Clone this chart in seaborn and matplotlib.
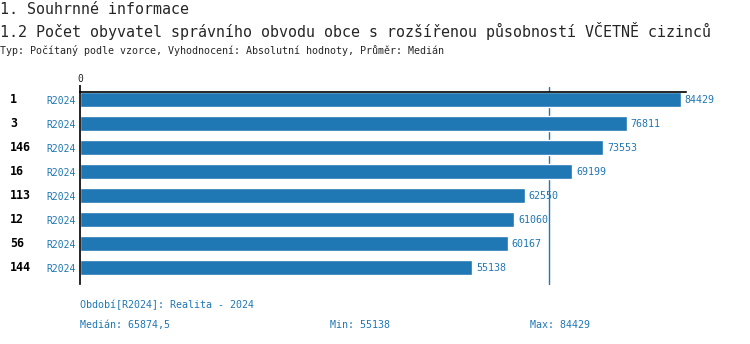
import matplotlib
matplotlib.use("Agg")
import matplotlib.pyplot as plt
import matplotlib.transforms as mtransforms
import seaborn as sns
import pandas as pd

# Data
categories = ["1", "3", "146", "16", "113", "12", "56", "144"]
period = ["R2024"] * 8
values = [84429, 76811, 73553, 69199, 62550, 61060, 60167, 55138]
median_value = 65874.5
min_value = 55138
max_value = 84429

title_1 = "1. Souhrnné informace"
title_2 = "1.2 Počet obyvatel správního obvodu obce s rozšířenou působností VČETNĚ cizinců"
subtitle = "Typ: Počítaný podle vzorce, Vyhodnocení: Absolutní hodnoty, Průměr: Medián"
period_note = "Období[R2024]: Realita - 2024"

sns.set_style("white")
plt.rcParams["font.family"] = ["DejaVu Sans Mono", "DejaVu Sans"]

BLUE = "#1f77b4"
W, H = 750, 344
fig = plt.figure(figsize=(W / 100, H / 100), dpi=100)

# axes placed in pixel terms: x from 80 to 686, y from 92 to 284 (top-down)
left, right, top, bottom = 80, 686, 92, 284
ax = fig.add_axes([left / W, (H - bottom) / H, (right - left) / W, (bottom - top) / H])

df = pd.DataFrame({"cat": categories, "val": values})
sns.barplot(data=df, x="val", y="cat", orient="h", color=BLUE, saturation=1,
            width=0.625, ax=ax, order=categories)

ax.set_xlim(0, 85170)
ax.set_ylim(len(categories) - 1 + 0.667, -0.333)
ax.set_xlabel("")
ax.set_ylabel("")

# spines: top and left only
for s in ["right", "bottom"]:
    ax.spines[s].set_visible(False)
for s in ["top", "left"]:
    ax.spines[s].set_visible(True)
    ax.spines[s].set_color("black")
    ax.spines[s].set_linewidth(1.2)

# single zero tick on top
ax.xaxis.tick_top()
ax.set_xticks([0])
ax.set_xticklabels(["0"])
ax.tick_params(axis="x", length=5, width=1.2, color="black", pad=1, labelsize=7)

# period labels as y tick labels
ax.set_yticks(range(len(categories)))
ax.set_yticklabels(period, color=BLUE, fontsize=7)
ax.tick_params(axis="y", length=0, pad=3)

# category ids at the far left
trans = mtransforms.blended_transform_factory(fig.transFigure, ax.transData)
for i, c in enumerate(categories):
    ax.text(10 / W, i, c, transform=trans, ha="left", va="center",
            fontsize=8.4, fontweight="bold", color="black")

# value labels
for i, v in enumerate(values):
    ax.text(v + 500, i, str(v), ha="left", va="center", fontsize=7.2,
            color=BLUE, clip_on=False)

# median line
ax.axvline(median_value, ymin=0, ymax=1 + 5 / (bottom - top), color=BLUE,
           lw=1, clip_on=False, zorder=0)

# titles
fig.text(0, 1 - 9 / H, title_1, fontsize=10.8, va="center", ha="left")
fig.text(0, 1 - 31 / H, title_2, fontsize=10.8, va="center", ha="left")
fig.text(0, 1 - 50 / H, subtitle, fontsize=7.2, va="center", ha="left")

# footer
fig.text(80 / W, 1 - 305 / H, period_note, fontsize=7.2, color=BLUE, va="center")
fig.text(80 / W, 1 - 325 / H, f"Medián: {str(median_value).replace('.', ',')}",
         fontsize=7.2, color=BLUE, va="center")
fig.text(330 / W, 1 - 325 / H, f"Min: {min_value}", fontsize=7.2, color=BLUE, va="center")
fig.text(530 / W, 1 - 325 / H, f"Max: {max_value}", fontsize=7.2, color=BLUE, va="center")

fig.savefig("out.png", dpi=100)
